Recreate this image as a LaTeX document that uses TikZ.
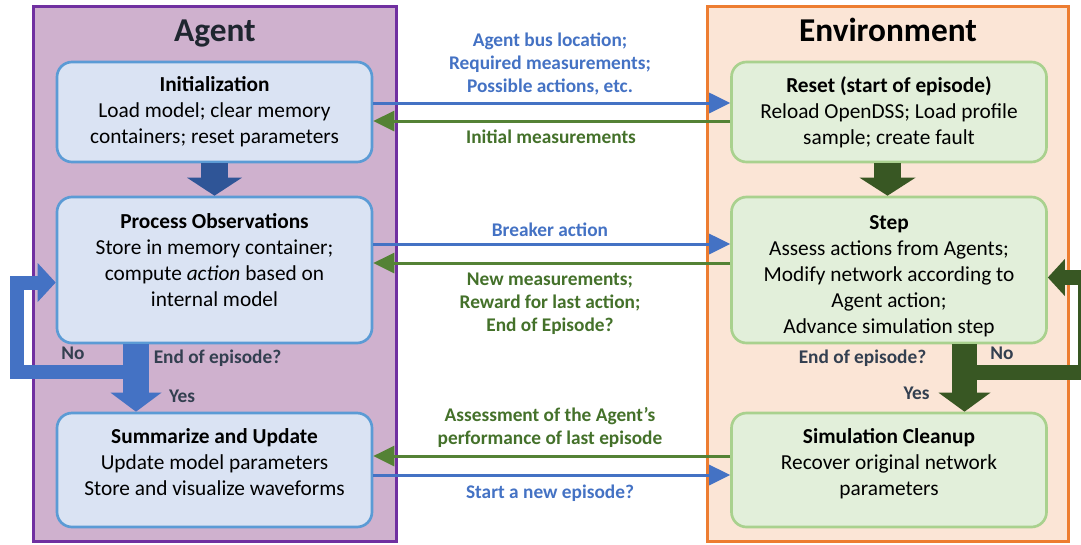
\documentclass[tikz,border=0pt]{standalone}
\usepackage{fontspec}
\setmainfont{Carlito}
\usetikzlibrary{arrows.meta,positioning}

\definecolor{agentfill}{HTML}{CFB1CE}
\definecolor{agentline}{HTML}{7030A0}
\definecolor{envfill}{HTML}{FBE5D6}
\definecolor{envline}{HTML}{ED7D31}
\definecolor{bluefill}{HTML}{DAE3F3}
\definecolor{blueline}{HTML}{5B9BD5}
\definecolor{greenfill}{HTML}{E2EFDA}
\definecolor{greenline}{HTML}{A9D18E}
\definecolor{arrblue}{HTML}{4472C4}
\definecolor{arrgreen}{HTML}{548235}
\definecolor{darkblue}{HTML}{2F5597}
\definecolor{darkgreen}{HTML}{385723}
\definecolor{txtgreen}{HTML}{44712A}
\definecolor{slate}{HTML}{333F50}

\begin{document}
\begin{tikzpicture}[x=0.75pt,y=-0.75pt,>={Triangle[length=15.75pt,width=15pt]},
	panel/.style={draw,line width=2.25pt,minimum width=272pt,minimum height=401pt,inner sep=0pt},
	box/.style={draw,line width=2pt,rounded corners=11.25pt,minimum width=236.25pt,inner sep=0pt,align=center,font=\fontsize{16}{19.5}\selectfont},
	agentstep/.style={box,fill=bluefill,draw=blueline},
	envstep/.style={box,fill=greenfill,draw=greenline},
	title/.style={font=\fontsize{25}{30}\selectfont\bfseries,text height=18pt,text depth=5pt},
	msg/.style={font=\fontsize{14.5}{17.25}\selectfont\bfseries,align=center},
	tell/.style={->,line width=2.25pt,draw=arrblue},
	answer/.style={->,line width=2.25pt,draw=arrgreen},
	decide/.style={text=slate,font=\fontsize{14.5}{17}\selectfont\bfseries}]

		\path[use as bounding box,fill=white] (0,0) rectangle (1081,544);

		% the two panels
		\node[panel,fill=agentfill,draw=agentline]  (agent)  at (215,274)   {};
		\node[panel,fill=envfill,draw=envline,minimum width=270.75pt] (env) at (888,274) {};
		\node[title,text=slate!60!black]            (agentT) at (215,33)    {Agent};
		\node[title]                                (envT)   at (888,33)    {Environment};

		% agent side
		\node[agentstep,minimum height=75pt]    (init)  at (214.5,112) {\textbf{Initialization}\\Load model; clear memory\\containers; reset parameters};
		\node[agentstep,minimum height=109.5pt] (proc)  at (214.5,270) {\textbf{Process Observations}\\Store in memory container;\\compute \emph{action} based on\\internal model\\[-4.5pt]\mbox{}};
		\node[agentstep,minimum height=85.5pt]  (summ)  at (214.5,470) {\textbf{Summarize and Update}\\Update model parameters\\Store and visualize waveforms\\[-7.5pt]\mbox{}};

		% environment side
		\node[envstep,minimum height=75pt]      (reset) at (889,112)   {\textbf{Reset (start of episode)}\\Reload OpenDSS; Load profile\\sample; create fault};
		\node[envstep,minimum height=109.5pt]   (step)  at (889,270)   {\rule{0pt}{20pt}\textbf{Step}\\Assess actions from Agents;\\Modify network according to\\Agent action;\\Advance simulation step};
		\node[envstep,minimum height=85.5pt]    (clean) at (889,470)   {\textbf{Simulation Cleanup}\\Recover original network\\parameters\\[-7.5pt]\mbox{}};

		% messages between agent and environment
		\draw[tell]   ([yshift=6.75pt]init.east)   -- ([yshift=6.75pt]reset.west);
		\draw[answer] ([yshift=-6.75pt]reset.west) -- ([yshift=-6.75pt]init.east);
		\draw[tell]   ([yshift=19.5pt]proc.east)   -- ([yshift=19.5pt]step.west);
		\draw[answer] ([yshift=5.25pt]step.west)   -- ([yshift=5.25pt]proc.east);
		\draw[answer] ([yshift=10.5pt]clean.west)  -- ([yshift=10.5pt]summ.east);
		\draw[tell]   ([yshift=-3.75pt]summ.east)  -- ([yshift=-3.75pt]clean.west);

		\node[msg,text=arrblue]  (m1) at (550,64)  {Agent bus location;\\Required measurements;\\Possible actions, etc.};
		\node[msg,text=txtgreen] (m2) at (551,137) {Initial measurements};
		\node[msg,text=arrblue]  (m3) at (550,230) {Breaker action};
		\node[msg,text=txtgreen] (m4) at (550,304) {New measurements;\\Reward for last action;\\End of Episode?};
		\node[msg,text=txtgreen] (m5) at (550,427) {Assessment of the Agent’s\\performance of last episode};
		\node[msg,text=arrblue]  (m6) at (550,493) {Start a new episode?};

		% block arrows
		\coordinate (lx)  at (136,0);
		\coordinate (lno) at (17,372);
		\coordinate (rx)  at (964.5,0);
		\coordinate (rno) at (1085.5,372.5);

		\draw[darkblue,line width=20.25pt,-{Triangle[length=13.5pt,width=41.25pt,line width=0pt]}] (init.south) -- (proc.north);
		\draw[darkgreen,line width=20.25pt,-{Triangle[length=13.5pt,width=42pt,line width=0pt]}] (reset.south -| 887.5,0) -- (step.north -| 887.5,0);

		\draw[arrblue,line width=10.5pt,-{Triangle[length=13.5pt,width=29.25pt,line width=0pt]}] (lx |- lno) -- (lno) |- ([yshift=-9.375pt]proc.west);
		\draw[arrblue,line width=19.5pt,-{Triangle[length=14.25pt,width=38.25pt,line width=0pt]}] (proc.south -| lx) -- (summ.north -| lx);

		\draw[darkgreen,line width=11.25pt,-{Triangle[length=12.75pt,width=27.75pt,line width=0pt]}] (rx |- rno) -- (rno) |- ([yshift=-5.625pt]step.east);
		\draw[darkgreen,line width=18.75pt,-{Triangle[length=14.25pt,width=39pt,line width=0pt]}] (step.south -| rx) -- (clean.north -| rx);

		\node[decide] (no1)  at (73,353)    {No};
		\node[decide] (eoe1) at (217.5,358) {End of episode?};
		\node[decide] (yes1) at (182,396)   {Yes};
		\node[decide] (eoe2) at (862.5,358) {End of episode?};
		\node[decide] (no2)  at (1002,353)  {No};
		\node[decide] (yes2) at (916.5,393) {Yes};
\end{tikzpicture}
\end{document}
